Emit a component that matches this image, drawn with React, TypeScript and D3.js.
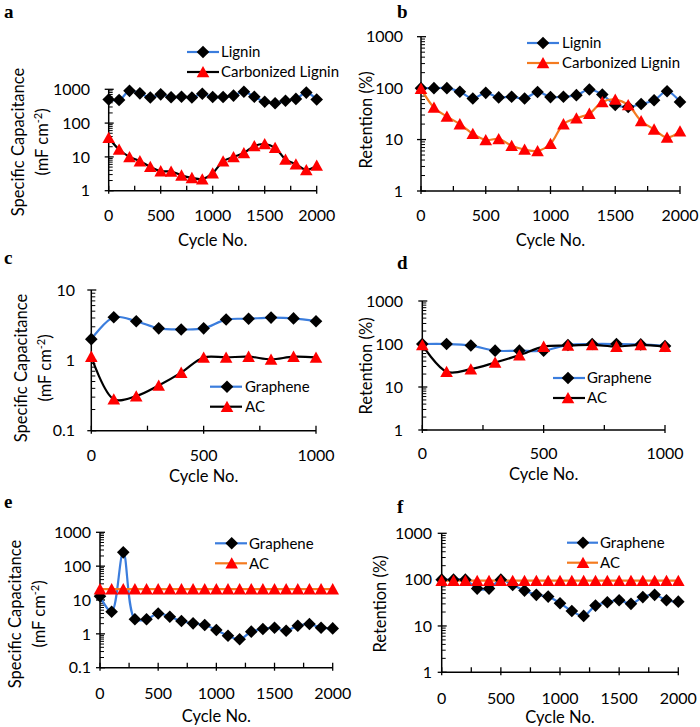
import React from "react";
import * as d3 from "d3";

const cyclesLong = [0,100,200,300,400,500,600,700,800,900,1000,1100,1200,1300,1400,1500,1600,1700,1800,1900,2000];
const cyclesShort = [0,100,200,300,400,500,600,700,800,900,1000];

// panel a
const aLignin = [500,480,900,760,570,710,580,600,570,740,590,590,650,850,600,430,385,460,520,800,500];
const aCarbon = [37,16.5,10,7.5,5.1,3.8,3.7,2.85,2.4,2.2,3.3,7.4,10,13,21,24,18.6,8.4,6.1,4.1,5.6];
// panel b
const bLignin = [100,100,100,85,63,81,66,68,63,84,67,68,73,94,75,47,43,49,58,87,54];
const bCarbon = [98,42,28,20,13,9.8,10.3,7.6,6.4,6.0,8.3,20,26,32,54,60,47,23,15.8,11,14.5];
// panel c
const cGraphene = [2.0,4.1,3.6,2.85,2.75,2.85,3.8,3.9,4.05,3.95,3.6];
const cAC = [1.13,0.28,0.31,0.44,0.67,1.1,1.1,1.13,1.03,1.13,1.1];
// panel d
const dGraphene = [100,100,92,70,70,70,95,100,100,98,90];
const dAC = [95,22.7,26,37,55,87,92,95,87,95,87];
// panel e
const eGraphene = [13,4.5,256,2.7,2.7,4.0,3.2,2.4,2.04,1.83,1.3,0.88,0.69,1.16,1.39,1.52,1.24,1.74,1.95,1.52,1.45];
const eAC = [21,21,21,21,21,21,21,21,21,21,21,21,21,21,21,21,21,21,21,21,21];
// panel f
const fGraphene = [100,100,100,64,64,100,77,58,47,43,31,21,16.5,27.5,32.5,36,30,42,47,36,33.5];
const fAC = [95,95,95,95,95,95,95,95,95,95,95,95,95,95,95,95,95,95,95,95,95];

const xTicksLong = [0,500,1000,1500,2000];
const xTicksShort = [0,500,1000];

const BLUE = "#3b7ddd";
const ORANGE = "#f47b20";
const RED = "#ff0000";
const FONT = "Lato, 'Liberation Sans', sans-serif";

type Series = { name: string; values: number[]; line: string; marker: "diamond" | "triangle" };

type PanelProps = {
  letter: string; lx: number; ly: number;
  x0: number; x1: number; yTop: number; yBot: number;
  xs: number[]; xMax: number; xTicks: number[];
  yMin: number; yMax: number; yLabelRight: number; xLabelY: number; xTitleY: number;
  yTitle: "cap" | "ret"; yTitleX: number; yTitleY: number;
  series: Series[];
  legend: { mx: number; y0: number; lineL: number; lineR: number; tx: number };
};

function Marker({ kind, x, y }: { kind: string; x: number; y: number }) {
  if (kind === "diamond") {
    return <polygon points={`${x},${y - 6.3} ${x + 6.3},${y} ${x},${y + 6.3} ${x - 6.3},${y}`} fill="#000" />;
  }
  return <polygon points={`${x},${y - 6} ${x + 6.3},${y + 5.3} ${x - 6.3},${y + 5.3}`} fill={RED} />;
}

function Panel(p: PanelProps) {
  const x = d3.scaleLinear().domain([0, p.xMax]).range([p.x0, p.x1]);
  const y = d3.scaleLog().domain([p.yMin, p.yMax]).range([p.yBot, p.yTop]);
  const decades: number[] = [];
  for (let v = p.yMin; v <= p.yMax * 1.0001; v *= 10) decades.push(v);
  const minors: number[] = [];
  decades.slice(0, -1).forEach((d) => { for (let k = 2; k <= 9; k++) minors.push(d * k); });
  const minorX = d3.range(0, p.xMax + 1, 250);
  const fmt = (v: number) => (v < 1 ? String(v) : String(Math.round(v)));
  const line = d3.line<number>().x((_, i) => x(p.xs[i])).y((v) => y(v)).curve(d3.curveCatmullRom.alpha(0.5));
  return (
    <g>
      <text x={p.lx} y={p.ly} fontFamily="'Liberation Serif', serif" fontWeight="bold" fontSize={19}>{p.letter}</text>
      {/* axes */}
      <line x1={p.x0} x2={p.x0} y1={p.yTop} y2={p.yBot} stroke="#000" strokeWidth={1.5} />
      <line x1={p.x0} x2={p.x1} y1={p.yBot} y2={p.yBot} stroke="#000" strokeWidth={1.5} />
      {decades.map((d) => (
        <g key={"d" + d}>
          <line x1={p.x0 - 4} x2={p.x0 + 5} y1={y(d)} y2={y(d)} stroke="#000" strokeWidth={1.3} />
          <text x={p.yLabelRight} y={y(d)} dy="0.36em" textAnchor="end" fontFamily={FONT} fontSize={16}>{fmt(d)}</text>
        </g>
      ))}
      {minors.map((d) => (
        <line key={"m" + d} x1={p.x0} x2={p.x0 + 4} y1={y(d)} y2={y(d)} stroke="#000" strokeWidth={1} />
      ))}
      {minorX.map((v) => (
        <line key={"xt" + v} x1={x(v)} x2={x(v)} y1={p.yBot - 5} y2={p.yBot + (v % 500 === 0 ? 3 : 0)} stroke="#000" strokeWidth={1.3} />
      ))}
      {p.xTicks.map((v) => (
        <text key={"xl" + v} x={x(v)} y={p.xLabelY} dy="0.36em" textAnchor="middle" fontFamily={FONT} fontSize={16}>{v}</text>
      ))}
      <text x={(p.x0 + p.x1) / 2} y={p.xTitleY} dy="0.36em" textAnchor="middle" fontFamily={FONT} fontSize={16.5}>Cycle No.</text>
      {p.yTitle === "cap" ? (
        <g transform={`translate(${p.yTitleX},${p.yTitleY}) rotate(-90)`}>
          <text x={0} y={0} dy="0.36em" textAnchor="middle" fontFamily={FONT} fontSize={16.5}>Specific Capacitance</text>
          <text x={0} y={24} dy="0.36em" textAnchor="middle" fontFamily={FONT} fontSize={16.5}>
            (mF cm<tspan dy="-6" fontSize={11}>-2</tspan><tspan dy="6">)</tspan>
          </text>
        </g>
      ) : (
        <g transform={`translate(${p.yTitleX},${p.yTitleY}) rotate(-90)`}>
          <text x={0} y={0} dy="0.36em" textAnchor="middle" fontFamily={FONT} fontSize={16.5}>Retention (%)</text>
        </g>
      )}
      {/* data */}
      {p.series.map((s) => (
        <path key={"l" + s.name} d={line(s.values) || ""} fill="none" stroke={s.line} strokeWidth={2.2} />
      ))}
      {p.series.map((s) => (
        <g key={"mk" + s.name}>
          {s.values.map((v, i) => <Marker key={i} kind={s.marker} x={x(p.xs[i])} y={y(v)} />)}
        </g>
      ))}
      {/* legend */}
      {p.series.map((s, i) => {
        const ly = p.legend.y0 + i * 20;
        return (
          <g key={"lg" + s.name}>
            <line x1={p.legend.lineL} x2={p.legend.lineR} y1={ly} y2={ly} stroke={s.line} strokeWidth={2.2} />
            <Marker kind={s.marker} x={p.legend.mx} y={ly} />
            <text x={p.legend.tx} y={ly} dy="0.36em" fontFamily={FONT} fontSize={15}>{s.name}</text>
          </g>
        );
      })}
    </g>
  );
}

export default function App() {
  return (
    <svg width={700} height={727} style={{ position: "absolute", left: 0, top: 0, background: "#fff" }}>
      <rect width={700} height={727} fill="#fff" />
      <Panel letter="a" lx={4} ly={18} x0={108.7} x1={316.7} yTop={89.3} yBot={190.7}
        xs={cyclesLong} xMax={2000} xTicks={xTicksLong} yMin={1} yMax={1000} yLabelRight={90}
        xLabelY={215} xTitleY={240} yTitle="cap" yTitleX={18} yTitleY={142}
        series={[
          { name: "Lignin", values: aLignin, line: BLUE, marker: "diamond" },
          { name: "Carbonized Lignin", values: aCarbon, line: "#000", marker: "triangle" },
        ]}
        legend={{ mx: 203, y0: 52, lineL: 187, lineR: 219, tx: 221 }} />
      <Panel letter="b" lx={397} ly={18} x0={421} x1={680} yTop={36.7} yBot={191}
        xs={cyclesLong} xMax={2000} xTicks={xTicksLong} yMin={1} yMax={1000} yLabelRight={403}
        xLabelY={215} xTitleY={240} yTitle="ret" yTitleX={366} yTitleY={120}
        series={[
          { name: "Lignin", values: bLignin, line: BLUE, marker: "diamond" },
          { name: "Carbonized Lignin", values: bCarbon, line: ORANGE, marker: "triangle" },
        ]}
        legend={{ mx: 543, y0: 43, lineL: 527, lineR: 559, tx: 562 }} />
      <Panel letter="c" lx={4} ly={264} x0={91.3} x1={316} yTop={290} yBot={430.7}
        xs={cyclesShort} xMax={1000} xTicks={xTicksShort} yMin={0.1} yMax={10} yLabelRight={75}
        xLabelY={455} xTitleY={476} yTitle="cap" yTitleX={21} yTitleY={368}
        series={[
          { name: "Graphene", values: cGraphene, line: BLUE, marker: "diamond" },
          { name: "AC", values: cAC, line: "#000", marker: "triangle" },
        ]}
        legend={{ mx: 227, y0: 386.7, lineL: 210, lineR: 242, tx: 245 }} />
      <Panel letter="d" lx={397} ly={269} x0={422.3} x1={665} yTop={301} yBot={430}
        xs={cyclesShort} xMax={1000} xTicks={xTicksShort} yMin={1} yMax={1000} yLabelRight={403}
        xLabelY={453} xTitleY={474} yTitle="ret" yTitleX={366} yTitleY={366}
        series={[
          { name: "Graphene", values: dGraphene, line: BLUE, marker: "diamond" },
          { name: "AC", values: dAC, line: "#000", marker: "triangle" },
        ]}
        legend={{ mx: 568, y0: 378, lineL: 553, lineR: 585, tx: 587 }} />
      <Panel letter="e" lx={4} ly={508} x0={100} x1={332.7} yTop={532.3} yBot={667.7}
        xs={cyclesLong} xMax={2000} xTicks={xTicksLong} yMin={0.1} yMax={1000} yLabelRight={91}
        xLabelY={693} xTitleY={716} yTitle="cap" yTitleX={15} yTitleY={614}
        series={[
          { name: "Graphene", values: eGraphene, line: BLUE, marker: "diamond" },
          { name: "AC", values: eAC, line: ORANGE, marker: "triangle" },
        ]}
        legend={{ mx: 231.7, y0: 543.3, lineL: 215, lineR: 247, tx: 249 }} />
      <Panel letter="f" lx={397} ly={513} x0={441.7} x1={678.3} yTop={533.3} yBot={672.3}
        xs={cyclesLong} xMax={2000} xTicks={xTicksLong} yMin={1} yMax={1000} yLabelRight={432}
        xLabelY={698} xTitleY={717} yTitle="ret" yTitleX={380} yTitleY={604}
        series={[
          { name: "Graphene", values: fGraphene, line: BLUE, marker: "diamond" },
          { name: "AC", values: fAC, line: ORANGE, marker: "triangle" },
        ]}
        legend={{ mx: 583, y0: 542.7, lineL: 567, lineR: 598, tx: 600 }} />
    </svg>
  );
}
